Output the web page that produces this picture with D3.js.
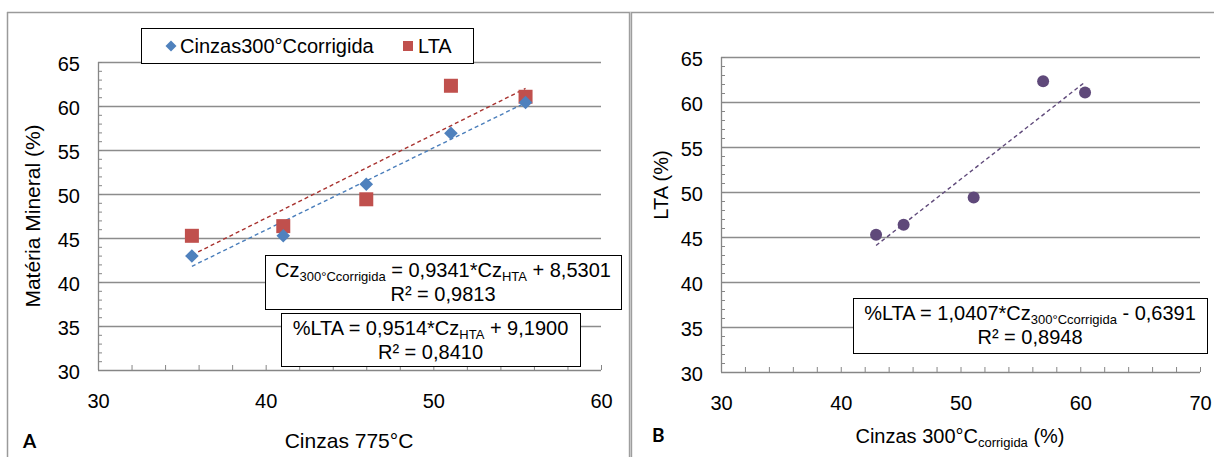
<!DOCTYPE html>
<html>
<head>
<meta charset="utf-8">
<script src="https://cdn.jsdelivr.net/npm/d3@7"></script>
<style>
  body { margin: 0; background: #fff; }
  svg { display: block; font-family: "Liberation Sans", Arial, sans-serif; }
  .tick text { font-size: 20px; fill: #000; }
</style>
</head>
<body>
<svg id="chart" width="1214" height="457"></svg>
<script>
// values
const cinzas775 = [35.6, 41.05, 46.0, 51.05, 55.5];
const cz300 = [42.95, 45.25, 51.1, 56.9, 60.4];
const lta = [45.25, 46.35, 49.4, 62.3, 61.05];

// trendlines as printed on the chart
const fitCz = { slope: 0.9341, intercept: 8.5301 };
const fitLta = { slope: 0.9514, intercept: 9.19 };
const fitB = { slope: 1.0407, intercept: -0.6391 };

const yTicks = [30, 35, 40, 45, 50, 55, 60, 65];
const xTicksA = [30, 40, 50, 60];
const xTicksB = [30, 40, 50, 60, 70];

const svg = d3.select("#chart");
const gridColor = "#8c8c8c";
const axisColor = "#868686";

// frame of the two panels
svg.append("line").attr("x1", 7).attr("x2", 1214).attr("y1", 12.5).attr("y2", 12.5)
  .attr("stroke", "#9a9a9a").attr("stroke-width", 1.5);
svg.append("line").attr("x1", 7.5).attr("x2", 7.5).attr("y1", 12).attr("y2", 457)
  .attr("stroke", "#9a9a9a").attr("stroke-width", 1.5);
svg.append("rect").attr("x", 629).attr("y", 12).attr("width", 3).attr("height", 445)
  .attr("fill", "#c8c8c8");
[629.3, 631.7].forEach((x) => {
  svg.append("line").attr("x1", x).attr("x2", x).attr("y1", 12).attr("y2", 457)
    .attr("stroke", "#8f8f8f").attr("stroke-width", 0.9);
});

function drawPanel(opts) {
  const { x, y } = opts;
  const g = svg.append("g");
  const [x0, x1] = x.range();
  const [yb, yt] = y.range();

  // gridlines
  g.selectAll("line.grid")
    .data(yTicks.slice(1))
    .enter()
    .append("line")
    .attr("class", "grid")
    .attr("x1", x0).attr("x2", x1)
    .attr("y1", (d) => Math.round(y(d)) + 0.5)
    .attr("y2", (d) => Math.round(y(d)) + 0.5)
    .attr("stroke", gridColor).attr("stroke-width", 1.3);

  // minor ticks (inside)
  const yMinor = d3.range(30, 65.01, 1);
  const xMinor = d3.range(x.domain()[0], x.domain()[1] + 0.01, 2);
  const ym = g.append("g")
    .attr("transform", `translate(${x0},0)`)
    .call(d3.axisRight(y).tickValues(yMinor).tickSize(4));
  ym.select(".domain").remove();
  ym.selectAll("text").remove();
  ym.selectAll("line").attr("stroke", axisColor);
  const xm = g.append("g")
    .attr("transform", `translate(0,${yb})`)
    .call(d3.axisTop(x).tickValues(xMinor).tickSize(5));
  xm.select(".domain").remove();
  xm.selectAll("text").remove();
  xm.selectAll("line").attr("stroke", axisColor);

  // axis lines
  g.append("line").attr("x1", x0 + 0.5).attr("x2", x0 + 0.5).attr("y1", yt).attr("y2", yb)
    .attr("stroke", axisColor).attr("stroke-width", 1.3);
  g.append("line").attr("x1", x0).attr("x2", x1).attr("y1", yb + 0.5).attr("y2", yb + 0.5)
    .attr("stroke", axisColor).attr("stroke-width", 1.3);

  // tick labels
  g.append("g")
    .attr("transform", `translate(${x0},0)`)
    .call(d3.axisLeft(y).tickValues(yTicks).tickSize(0).tickPadding(18))
    .call((a) => a.select(".domain").remove())
    .selectAll("text").attr("dy", "0.42em");
  g.append("g")
    .attr("transform", `translate(0,${yb})`)
    .call(d3.axisBottom(x).tickValues(opts.xTicks).tickSize(0).tickPadding(24))
    .call((a) => a.select(".domain").remove());

  g.selectAll(".tick text").style("font-family", "'Liberation Sans', Arial, sans-serif");
  return g;
}

function trend(g, x, y, fit, xs, color) {
  const [a, b] = d3.extent(xs);
  g.append("line")
    .attr("x1", x(a)).attr("y1", y(fit.slope * a + fit.intercept))
    .attr("x2", x(b)).attr("y2", y(fit.slope * b + fit.intercept))
    .attr("stroke", color).attr("stroke-width", 1.4)
    .attr("stroke-dasharray", "4,3");
}

function eqBox(g, box, lines) {
  g.append("rect")
    .attr("x", box.x + 0.5).attr("y", box.y + 0.5)
    .attr("width", box.w).attr("height", box.h)
    .attr("fill", "#fff").attr("stroke", "#000").attr("stroke-width", 1);
  lines.forEach((parts, i) => {
    const t = g.append("text")
      .attr("x", box.x + box.w / 2)
      .attr("y", box.y + 22 + i * 24)
      .attr("text-anchor", "middle")
      .attr("font-size", 20);
    let lift = false;
    parts.forEach((p) => {
      if (typeof p === "string") {
        const s = t.append("tspan").text(p);
        if (lift) s.attr("dy", -4);
        lift = false;
      } else {
        t.append("tspan").attr("dy", 4).attr("font-size", 13).text(p.sub);
        lift = true;
      }
    });
  });
}

// ---------- panel A ----------
const xA = d3.scaleLinear().domain([30, 60]).range([98, 601]);
const yA = d3.scaleLinear().domain([30, 65]).range([370, 62]);
const gA = drawPanel({ x: xA, y: yA, xTicks: xTicksA });

trend(gA, xA, yA, fitLta, cinzas775, "#a8322f");
trend(gA, xA, yA, fitCz, cinzas775, "#4a7ebb");

gA.selectAll("rect.lta")
  .data(cinzas775)
  .enter()
  .append("rect")
  .attr("class", "lta")
  .attr("x", (d) => xA(d) - 7).attr("y", (d, i) => yA(lta[i]) - 7)
  .attr("width", 14).attr("height", 14)
  .attr("fill", "#c0504d");
gA.selectAll("path.cz")
  .data(cinzas775)
  .enter()
  .append("path")
  .attr("class", "cz")
  .attr("d", "M0,-6.8L6.8,0L0,6.8L-6.8,0Z")
  .attr("transform", (d, i) => `translate(${xA(d)},${yA(cz300[i])})`)
  .attr("fill", "#4f81bd");

eqBox(gA, { x: 265, y: 255, w: 356, h: 54 }, [
  ["Cz", { sub: "300°Ccorrigida" }, " = 0,9341*Cz", { sub: "HTA" }, " + 8,5301"],
  ["R² = 0,9813"]
]);
eqBox(gA, { x: 281, y: 313, w: 299, h: 53 }, [
  ["%LTA = 0,9514*Cz", { sub: "HTA" }, " + 9,1900"],
  ["R² = 0,8410"]
]);

// legend
const leg = gA.append("g");
leg.append("rect").attr("x", 141.5).attr("y", 28.5).attr("width", 332).attr("height", 35)
  .attr("fill", "#fff").attr("stroke", "#000").attr("stroke-width", 1);
leg.append("path").attr("d", "M0,-5.5L5.5,0L0,5.5L-5.5,0Z")
  .attr("transform", "translate(171,46)").attr("fill", "#4f81bd");
leg.append("text").attr("x", 180).attr("y", 53).attr("font-size", 20)
  .text("Cinzas300°Ccorrigida");
leg.append("rect").attr("x", 403).attr("y", 41).attr("width", 10).attr("height", 10)
  .attr("fill", "#c0504d");
leg.append("text").attr("x", 418).attr("y", 53).attr("font-size", 20).text("LTA");

// axis titles
svg.append("text").attr("transform", "translate(40,216) rotate(-90)")
  .attr("text-anchor", "middle").attr("font-size", 21).text("Matéria Mineral (%)");
svg.append("text").attr("x", 349).attr("y", 448).attr("text-anchor", "middle")
  .attr("font-size", 21).text("Cinzas 775°C");
svg.append("text").attr("x", 23).attr("y", 448).attr("font-size", 19)
  .attr("font-weight", "bold").style("font-family", "Lato, 'Open Sans', sans-serif").text("A");

// ---------- panel B ----------
const xB = d3.scaleLinear().domain([30, 70]).range([721, 1200]);
const yB = d3.scaleLinear().domain([30, 65]).range([372, 57]);
const gB = drawPanel({ x: xB, y: yB, xTicks: xTicksB });

trend(gB, xB, yB, fitB, cz300, "#5f497a");
gB.selectAll("circle")
  .data(cz300)
  .enter()
  .append("circle")
  .attr("cx", (d) => xB(d)).attr("cy", (d, i) => yB(lta[i]))
  .attr("r", 6)
  .attr("fill", "#5f497a");

eqBox(gB, { x: 853, y: 298, w: 354, h: 55 }, [
  ["%LTA = 1,0407*Cz", { sub: "300°Ccorrigida" }, " - 0,6391"],
  ["R² = 0,8948"]
]);

svg.append("text").attr("transform", "translate(668,185) rotate(-90)")
  .attr("text-anchor", "middle").attr("font-size", 20).text("LTA (%)");
const tB = svg.append("text").attr("x", 960).attr("y", 443).attr("text-anchor", "middle")
  .attr("font-size", 20);
tB.append("tspan").text("Cinzas 300°C");
tB.append("tspan").attr("dy", 4).attr("font-size", 13).text("corrigida");
tB.append("tspan").attr("dy", -4).text(" (%)");
svg.append("text").attr("x", 652).attr("y", 442).attr("font-size", 19)
  .attr("font-weight", "bold").style("font-family", "Lato, 'Open Sans', sans-serif").text("B");
</script>
</body>
</html>
